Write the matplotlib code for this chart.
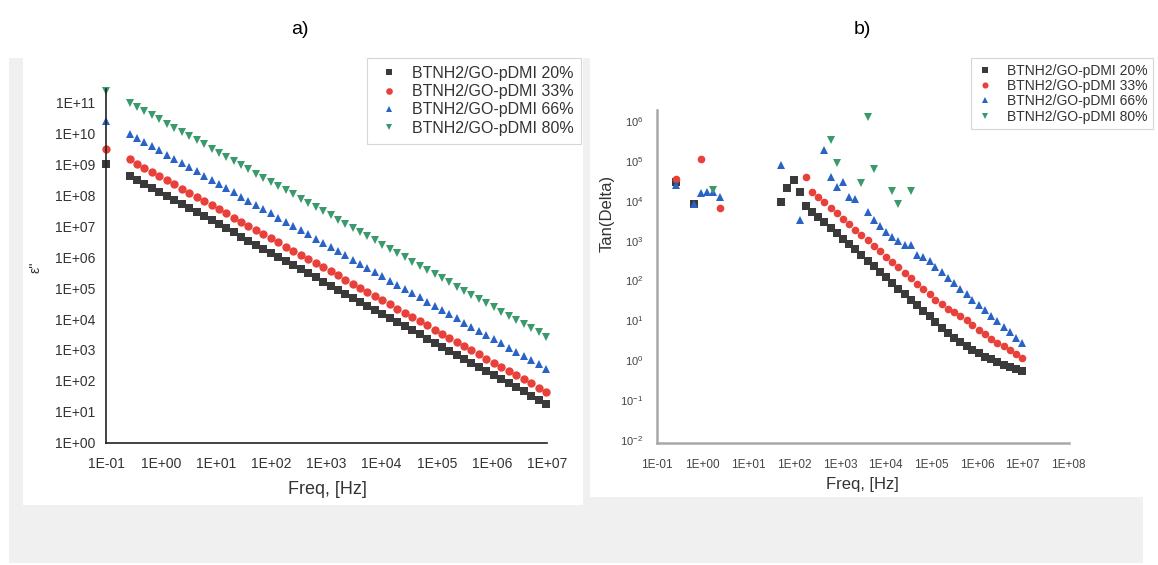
import numpy as np
import matplotlib
matplotlib.use('Agg')
import matplotlib.pyplot as plt
from matplotlib.patches import Rectangle
from matplotlib.ticker import FuncFormatter, NullLocator

plt.rcParams['font.family'] = ['Liberation Sans', 'DejaVu Sans']

nan = np.nan

# log10 of the sweep frequencies [Hz]
log_freq = [-1.00, -0.58, -0.45, -0.31, -0.18, -0.04, 0.10, 0.23, 0.37, 0.50, 0.64,
            0.77, 0.91, 1.04, 1.18, 1.31, 1.45, 1.58, 1.72, 1.85, 1.99,
            2.12, 2.26, 2.39, 2.53, 2.66, 2.80, 2.93, 3.07, 3.20, 3.34,
            3.47, 3.61, 3.74, 3.88, 4.01, 4.15, 4.28, 4.42, 4.55, 4.69,
            4.82, 4.96, 5.09, 5.23, 5.36, 5.50, 5.63, 5.77, 5.90, 6.04,
            6.17, 6.31, 6.44, 6.58, 6.71, 6.85, 6.98]

labels = ['BTNH2/GO-pDMI 20%', 'BTNH2/GO-pDMI 33%', 'BTNH2/GO-pDMI 66%', 'BTNH2/GO-pDMI 80%']
colors = ['#3a3a3a', '#e8403a', '#2a63c6', '#3b9a6c']
markers = ['s', 'o', '^', 'v']

# log10 of eps'' for each loading
eps_20 = [9.00, 8.64, 8.51, 8.38, 8.24, 8.11, 7.98, 7.85, 7.72, 7.59, 7.45,
          7.32, 7.19, 7.06, 6.93, 6.80, 6.66, 6.53, 6.40, 6.27, 6.14,
          6.00, 5.87, 5.74, 5.61, 5.48, 5.35, 5.21, 5.08, 4.95, 4.82,
          4.69, 4.55, 4.42, 4.29, 4.16, 4.03, 3.90, 3.76, 3.63, 3.50,
          3.37, 3.24, 3.10, 2.97, 2.84, 2.71, 2.58, 2.45, 2.31, 2.18,
          2.05, 1.92, 1.79, 1.66, 1.52, 1.39, 1.26]
eps_33 = [9.51, 9.16, 9.03, 8.89, 8.76, 8.62, 8.49, 8.36, 8.22, 8.09, 7.95,
          7.82, 7.68, 7.55, 7.42, 7.28, 7.15, 7.01, 6.88, 6.75, 6.61,
          6.48, 6.34, 6.21, 6.08, 5.94, 5.81, 5.67, 5.54, 5.41, 5.27,
          5.14, 5.00, 4.87, 4.73, 4.60, 4.47, 4.33, 4.20, 4.06, 3.93,
          3.80, 3.66, 3.53, 3.39, 3.26, 3.13, 2.99, 2.86, 2.72, 2.59,
          2.45, 2.32, 2.19, 2.05, 1.92, 1.78, 1.65]
eps_66 = [10.39, 10.00, 9.86, 9.73, 9.59, 9.46, 9.32, 9.18, 9.05, 8.91, 8.78,
          8.64, 8.51, 8.37, 8.23, 8.10, 7.96, 7.83, 7.69, 7.55, 7.42,
          7.28, 7.15, 7.01, 6.87, 6.74, 6.60, 6.47, 6.33, 6.19, 6.06,
          5.92, 5.79, 5.65, 5.52, 5.38, 5.24, 5.11, 4.97, 4.84, 4.70,
          4.56, 4.43, 4.29, 4.16, 4.02, 3.88, 3.75, 3.61, 3.48, 3.34,
          3.21, 3.07, 2.93, 2.80, 2.66, 2.53, 2.39]
eps_80 = [11.36, 11.00, 10.86, 10.73, 10.59, 10.46, 10.32, 10.19, 10.05, 9.92, 9.78,
          9.65, 9.51, 9.38, 9.24, 9.11, 8.97, 8.84, 8.70, 8.57, 8.43,
          8.30, 8.16, 8.03, 7.89, 7.76, 7.62, 7.48, 7.35, 7.21, 7.08,
          6.94, 6.81, 6.67, 6.54, 6.40, 6.27, 6.13, 6.00, 5.86, 5.73,
          5.59, 5.46, 5.32, 5.19, 5.05, 4.92, 4.78, 4.65, 4.51, 4.38,
          4.24, 4.11, 3.97, 3.84, 3.70, 3.57, 3.43]

# log10 of tan(delta), sweep starts at the second frequency; nan = not positive
tan_20 = [4.48, nan, nan, 3.91, nan, nan, nan, nan, nan, nan,
          nan, nan, nan, nan, nan, nan, nan, 3.96, 4.31, 4.52,
          4.21, 3.87, 3.73, 3.60, 3.46, 3.33, 3.19, 3.05, 2.92, 2.78,
          2.64, 2.50, 2.36, 2.22, 2.08, 1.94, 1.80, 1.66, 1.52, 1.38,
          1.24, 1.10, 0.96, 0.82, 0.68, 0.56, 0.45, 0.35, 0.26, 0.17,
          0.09, 0.02, -0.05, -0.11, -0.16, -0.21, -0.26]
tan_33 = [4.56, nan, nan, nan, 5.05, nan, nan, 3.81, nan, nan,
          nan, nan, nan, nan, nan, nan, nan, nan, nan, nan,
          nan, 4.60, 4.23, 4.09, 3.96, 3.82, 3.69, 3.55, 3.42, 3.28,
          3.14, 3.01, 2.87, 2.74, 2.60, 2.47, 2.33, 2.20, 2.06, 1.92,
          1.79, 1.65, 1.52, 1.40, 1.28, 1.20, 1.12, 1.01, 0.89, 0.77,
          0.65, 0.54, 0.44, 0.35, 0.26, 0.15, 0.05]
tan_66 = [4.40, nan, nan, 3.91, 4.20, 4.22, 4.22, 4.10, nan, nan,
          nan, nan, nan, nan, nan, nan, nan, 4.90, nan, nan,
          3.52, nan, nan, nan, 5.27, 4.60, 4.34, 4.48, 4.10, 4.05,
          nan, 3.71, 3.52, 3.36, 3.22, 3.10, 3.00, 2.90, 2.88, 2.64,
          2.58, 2.48, 2.34, 2.21, 2.07, 1.93, 1.80, 1.66, 1.52, 1.39,
          1.25, 1.11, 0.98, 0.84, 0.70, 0.57, 0.43]
tan_80 = [nan, nan, nan, nan, nan, nan, 4.27, nan, nan, nan,
          nan, nan, nan, nan, nan, nan, nan, nan, nan, nan,
          nan, nan, nan, nan, nan, 5.52, 4.94, nan, nan, nan,
          4.44, 6.11, 4.80, nan, nan, 4.25, 3.91, nan, 4.25, nan,
          nan, nan, nan, nan, nan, nan, nan, nan, nan, nan,
          nan, nan, nan, nan, nan, nan, nan]

W, H = 1158, 565


def frac(x0, y0, x1, y1):
    # pixel box (top-left origin) -> figure fraction rect
    return [x0 / W, 1 - y1 / H, (x1 - x0) / W, (y1 - y0) / H]


def pxrect(x0, y0, x1, y1, color):
    l, b, w, h = frac(x0, y0, x1, y1)
    return Rectangle((l, b), w, h, transform=fig.transFigure, color=color, zorder=-10, lw=0)


fig = plt.figure(figsize=(W / 100, H / 100), dpi=100)
fig.add_artist(pxrect(9, 58, 1143, 563, '#f0f0f0'))
fig.add_artist(pxrect(23, 58, 583, 505, 'white'))
fig.add_artist(pxrect(590, 58, 1150, 497, 'white'))

fig.text(300 / W, 1 - 30 / H, 'a)', ha='center', va='center', fontsize=14)
fig.text(862 / W, 1 - 30 / H, 'b)', ha='center', va='center', fontsize=14)

freq = 10 ** np.array(log_freq)
e_fmt = FuncFormatter(lambda v, p: '{:.0E}'.format(v))

# ---- a) eps'' ----
ax = fig.add_axes(frac(106.5, 89.3, 546.8, 442.7))
ax.patch.set_alpha(0)
for ser, c, m, lab in zip([eps_20, eps_33, eps_66, eps_80], colors, markers, labels):
    ax.plot(freq, 10 ** np.array(ser), ls='none', marker=m, ms=6, mfc=c, mec=c, mew=0, label=lab, clip_on=False)
ax.set_xscale('log')
ax.set_yscale('log')
ax.set_xlim(0.1, 1e7)
ax.set_ylim(1, 10 ** 11.43)
ax.set_xticks([10.0 ** e for e in range(-1, 8)])
ax.set_yticks([10.0 ** e for e in range(0, 12)])
ax.xaxis.set_minor_locator(NullLocator())
ax.yaxis.set_minor_locator(NullLocator())
ax.xaxis.set_major_formatter(e_fmt)
ax.yaxis.set_major_formatter(e_fmt)
ax.tick_params(length=0, labelsize=10, colors='#333333')
ax.tick_params(axis='y', pad=8)
ax.tick_params(axis='x', pad=10)
for s in ['top', 'right']:
    ax.spines[s].set_visible(False)
for s in ['left', 'bottom']:
    ax.spines[s].set_color('#222222')
    ax.spines[s].set_linewidth(1.2)
fig.text(35 / W, 1 - 267 / H, "ε''", rotation=90, ha='center', va='center', fontsize=10, color='#333333')
fig.text(327 / W, 1 - 490 / H, 'Freq, [Hz]', ha='center', va='center', fontsize=13, color='#333333')
leg = ax.legend(loc='upper left', bbox_to_anchor=(367 / W, 1 - 58 / H), bbox_transform=fig.transFigure,
                fontsize=11.5, frameon=True, fancybox=False, edgecolor='#cccccc', borderpad=0.5,
                handlelength=1.8, handletextpad=0.5, labelspacing=0.2, borderaxespad=0, markerscale=0.8)
leg.get_frame().set_linewidth(0.8)
for t in leg.get_texts():
    t.set_color('#333333')

# ---- b) tan(delta) ----
ax = fig.add_axes(frac(657, 110, 1068.5, 442.7))
ax.patch.set_alpha(0)
for ser, c, m, lab in zip([tan_20, tan_33, tan_66, tan_80], colors, markers, labels):
    ax.plot(freq[1:], 10 ** np.array(ser), ls='none', marker=m, ms=5.5, mfc=c, mec=c, mew=0, label=lab)
ax.set_xscale('log')
ax.set_yscale('log')
ax.set_xlim(0.1, 1e8)
ax.set_ylim(10 ** -2.07, 10 ** 6.28)
ax.set_xticks([10.0 ** e for e in range(-1, 9)])
ax.set_yticks([10.0 ** e for e in range(-2, 7)])
ax.xaxis.set_minor_locator(NullLocator())
ax.yaxis.set_minor_locator(NullLocator())
ax.xaxis.set_major_formatter(e_fmt)
ax.tick_params(length=0, colors='#444444')
ax.tick_params(axis='x', labelsize=8.5, pad=12)
ax.tick_params(axis='y', labelsize=8, pad=10)
for s in ['top', 'right']:
    ax.spines[s].set_visible(False)
for s in ['left', 'bottom']:
    ax.spines[s].set_color('#a8a8a8')
    ax.spines[s].set_linewidth(1.8)
fig.text(607.6 / W, 1 - 213 / H, 'Tan(Delta)', rotation=90, ha='center', va='center', fontsize=12, color='#333333')
fig.text(862 / W, 1 - 485 / H, 'Freq, [Hz]', ha='center', va='center', fontsize=12, color='#333333')
leg = ax.legend(loc='upper left', bbox_to_anchor=(970.7 / W, 1 - 58 / H), bbox_transform=fig.transFigure,
                fontsize=10, frameon=True, fancybox=False, edgecolor='#cccccc', borderpad=0.4,
                handlelength=1.2, handletextpad=1.0, labelspacing=0.1, borderaxespad=0, markerscale=0.8)
leg.get_frame().set_linewidth(0.8)
for t in leg.get_texts():
    t.set_color('#333333')

fig.savefig('out.png', dpi=100)
